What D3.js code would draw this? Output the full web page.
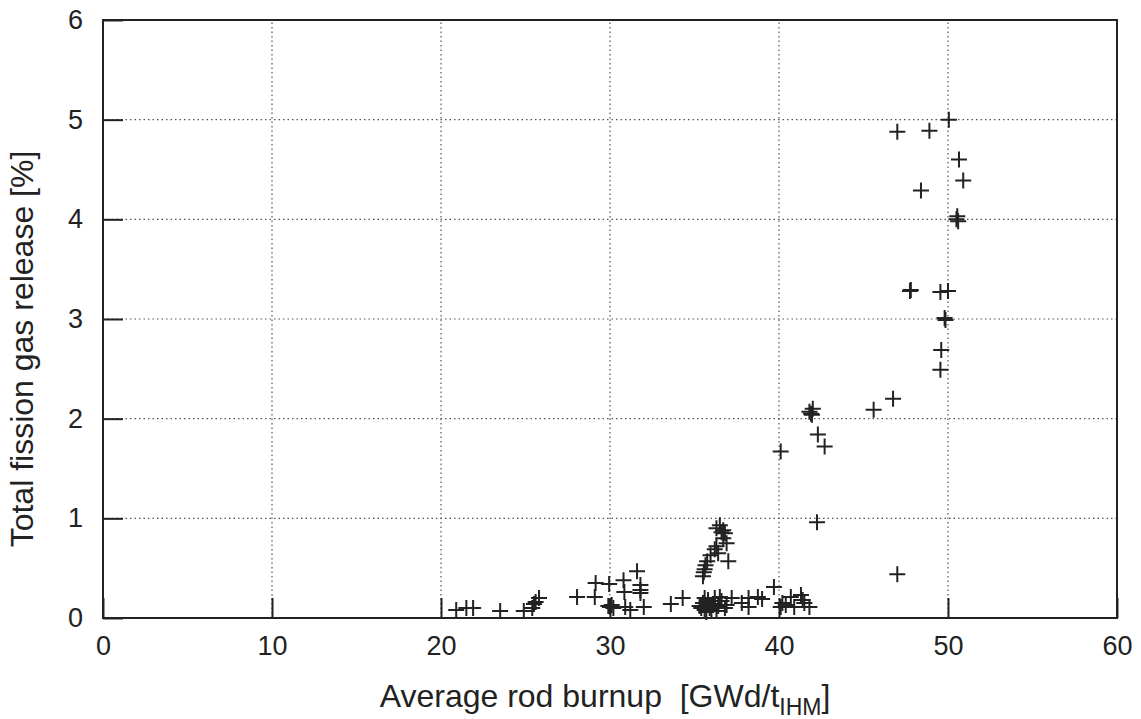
<!DOCTYPE html>
<html>
<head>
<meta charset="utf-8">
<script src="https://cdn.jsdelivr.net/npm/d3@7"></script>
<style>
body { margin: 0; background: #fff; }
text { font-family: "Liberation Sans", Arial, sans-serif; fill: #222; }
</style>
</head>
<body>
<div id="chart"></div>
<script>
width = 1141
height = 719

// average rod burnup [GWd/tIHM] and total fission gas release [%]
let burnup = [
    20.9, 21.5, 21.9, 23.5, 24.9, 25.4, 25.5, 25.6, 25.8, 28.05,
    29.1, 29.15, 29.95, 30.8, 31.6, 30.85, 31.8, 31.8, 31.8, 30.0,
    30.1, 30.2, 29.9, 30.9, 31.2, 32.0, 33.6, 34.3,
    35.5, 35.55, 35.6, 35.65, 35.75, 35.95, 36.3, 36.4, 36.7, 36.9,
    37.0, 36.3, 36.5, 36.6, 36.8, 36.7, 36.2,
    35.3, 35.5, 35.6, 35.8, 35.9, 36.1, 36.2, 35.7, 36.4, 36.6,
    36.8, 36.5, 36.9, 36.3, 35.6, 35.4, 36.0, 35.8,
    37.2, 37.8, 38.2, 38.2, 38.75, 39.0, 39.7, 40.2, 40.1, 40.7,
    40.4, 41.3, 41.4, 41.5, 41.8, 40.9,
    40.1, 41.8, 41.9, 42.0, 41.95, 42.3, 42.7, 42.25, 45.6, 46.75,
    47.0, 50.05, 47.0, 48.9, 50.65, 50.9, 48.4, 50.5, 50.6, 50.55,
    47.75, 47.8, 49.55, 50.0, 49.85, 49.8, 49.6, 49.55
]
let release = [
    0.08, 0.1, 0.1, 0.07, 0.07, 0.1, 0.14, 0.16, 0.2, 0.21,
    0.21, 0.35, 0.34, 0.38, 0.47, 0.26, 0.33, 0.28, 0.25, 0.11,
    0.13, 0.1, 0.12, 0.11, 0.08, 0.11, 0.14, 0.2,
    0.42, 0.46, 0.49, 0.53, 0.57, 0.63, 0.72, 0.65, 0.8, 0.75,
    0.57, 0.9, 0.93, 0.86, 0.85, 0.88, 0.69,
    0.12, 0.15, 0.08, 0.18, 0.1, 0.14, 0.2, 0.06, 0.12, 0.17,
    0.1, 0.21, 0.13, 0.07, 0.2, 0.1, 0.08, 0.16,
    0.2, 0.15, 0.2, 0.11, 0.21, 0.19, 0.31, 0.15, 0.11, 0.21,
    0.13, 0.23, 0.18, 0.15, 0.11, 0.11,
    1.67, 2.07, 2.05, 2.1, 2.04, 1.84, 1.72, 0.96, 2.09, 2.2,
    0.44, 5.0, 4.88, 4.89, 4.6, 4.39, 4.29, 4.0, 3.98, 4.03,
    3.28, 3.29, 3.27, 3.28, 2.99, 3.01, 2.69, 2.49
]

let xTicks = [0, 10, 20, 30, 40, 50, 60]
let yTicks = [0, 1, 2, 3, 4, 5, 6]

let points = burnup.map((b, i) => ({ x: b, y: release[i] }))

let svg = d3.select("#chart")
    .append("svg")
    .attr("width", width)
    .attr("height", height)

let x = d3.scaleLinear().domain([0, 60]).range([103, 1117])
let y = d3.scaleLinear().domain([0, 6]).range([618, 20])

// dotted grid
let grid = svg.append("g")
grid.selectAll(".gx")
    .data(xTicks.slice(1, -1))
    .join("line")
    .attr("x1", d => x(d)).attr("x2", d => x(d))
    .attr("y1", y(0)).attr("y2", y(6))
    .attr("stroke", "#555")
    .attr("stroke-width", 1.2)
    .attr("stroke-dasharray", "1.5,3")
grid.selectAll(".gy")
    .data(yTicks.slice(1, -1))
    .join("line")
    .attr("y1", d => y(d)).attr("y2", d => y(d))
    .attr("x1", x(0)).attr("x2", x(60))
    .attr("stroke", "#555")
    .attr("stroke-width", 1.2)
    .attr("stroke-dasharray", "1.5,3")

// inward ticks, only bottom and left
let xAxis = svg.append("g")
    .attr("transform", "translate(0," + y(0) + ")")
    .call(d3.axisBottom(x).tickValues(xTicks).tickFormat(d3.format("d"))
        .tickSizeInner(-20).tickSizeOuter(0).tickPadding(0))
let yAxis = svg.append("g")
    .attr("transform", "translate(" + x(0) + ",0)")
    .call(d3.axisLeft(y).tickValues(yTicks).tickFormat(d3.format("d"))
        .tickSizeInner(-20).tickSizeOuter(0).tickPadding(0))

xAxis.select(".domain").remove()
yAxis.select(".domain").remove()
svg.selectAll(".tick line").attr("stroke", "#222").attr("stroke-width", 2)

xAxis.selectAll("text")
    .attr("y", 28)
    .attr("dy", "0.35em")
    .style("font-size", "27px")
    .style("font-family", "Liberation Sans, Arial, sans-serif")
    .attr("fill", "#222")
yAxis.selectAll("text")
    .attr("x", -20)
    .style("font-size", "27px")
    .style("font-family", "Liberation Sans, Arial, sans-serif")
    .attr("fill", "#222")

// frame
svg.append("rect")
    .attr("x", x(0)).attr("y", y(6))
    .attr("width", x(60) - x(0))
    .attr("height", y(0) - y(6))
    .attr("fill", "none")
    .attr("stroke", "#222")
    .attr("stroke-width", 2)

// plus markers
svg.append("g")
    .selectAll("path")
    .data(points)
    .join("path")
    .attr("d", d => "M" + (x(d.x) - 8) + "," + y(d.y) + "H" + (x(d.x) + 8) +
        "M" + x(d.x) + "," + (y(d.y) - 8) + "V" + (y(d.y) + 8))
    .attr("stroke", "#222")
    .attr("stroke-width", 2)
    .attr("fill", "none")

// axis titles
let xl = svg.append("text")
    .attr("x", 605)
    .attr("y", 707)
    .attr("text-anchor", "middle")
    .style("font-size", "32px")
xl.append("tspan").text("Average rod burnup\u00a0\u00a0[GWd/t")
xl.append("tspan").attr("dy", 8).style("font-size", "23px").text("IHM")
xl.append("tspan").attr("dy", -8).text("]")

svg.append("text")
    .attr("transform", "translate(33,349) rotate(-90)")
    .attr("text-anchor", "middle")
    .style("font-size", "32px")
    .text("Total fission gas release [%]")
</script>
</body>
</html>
